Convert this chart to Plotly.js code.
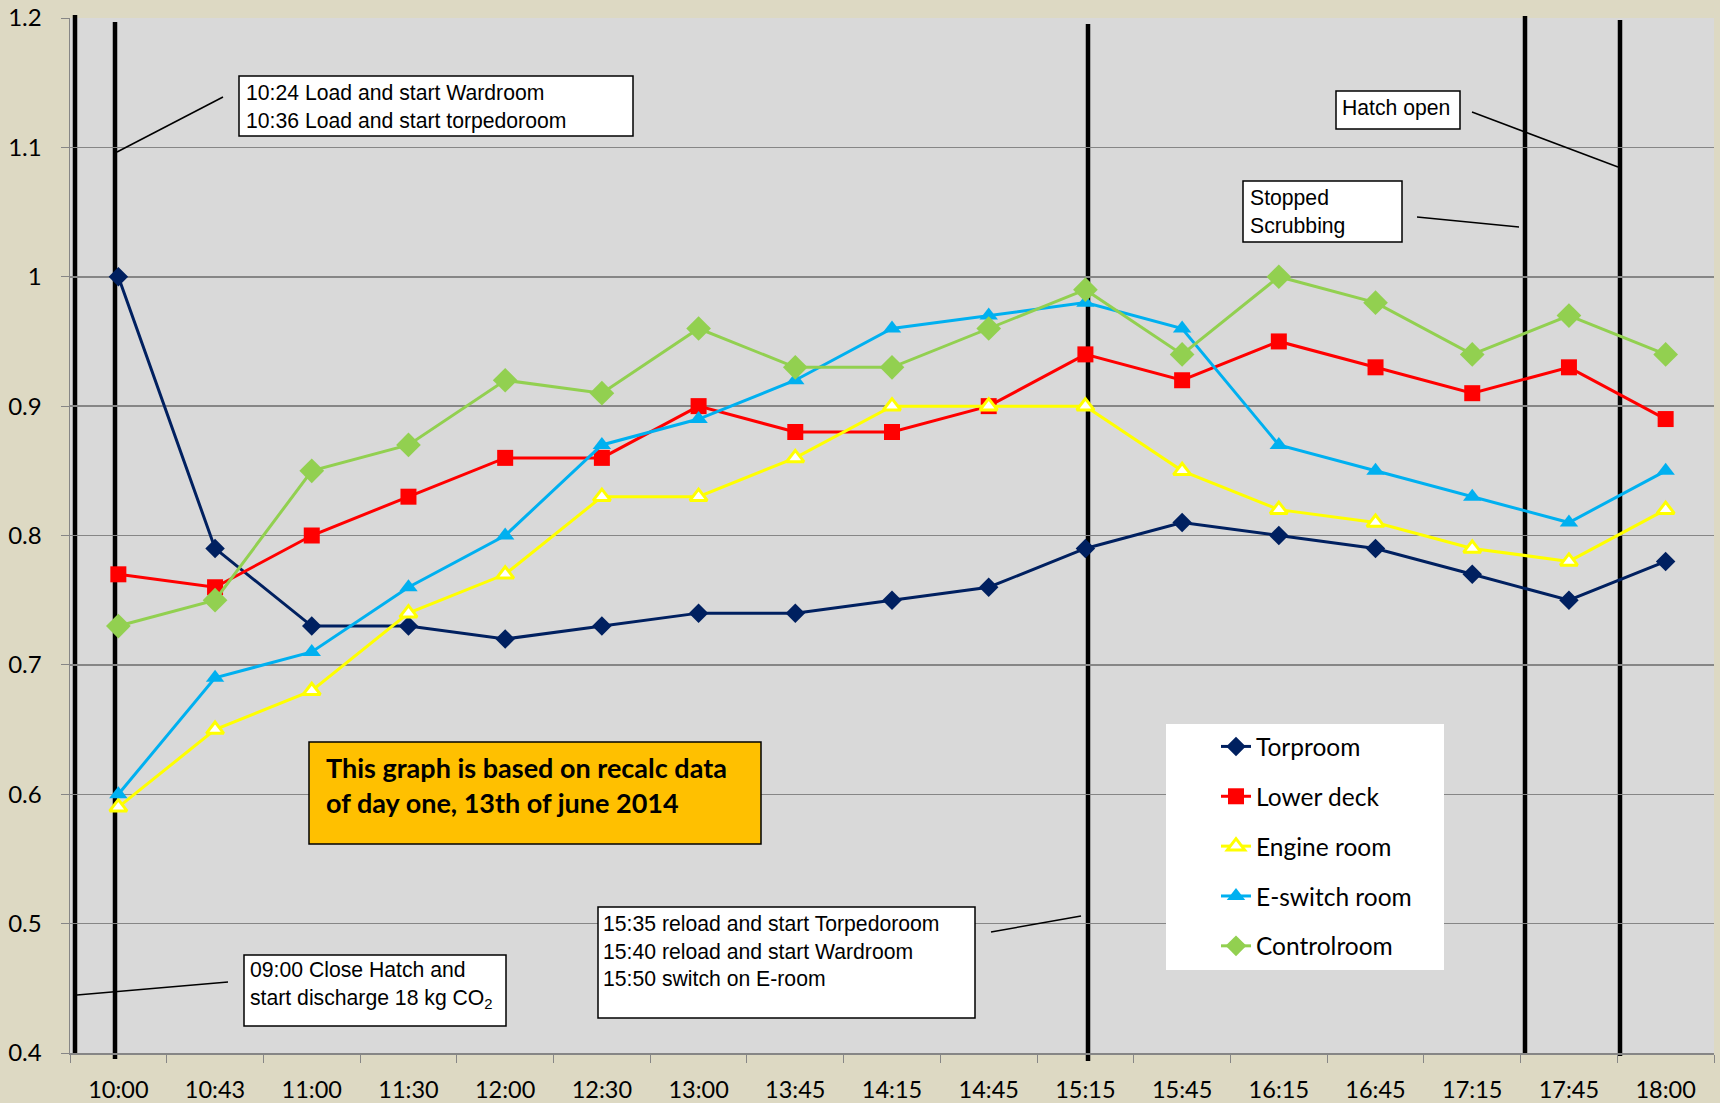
<!DOCTYPE html>
<html>
<head>
<meta charset="utf-8">
<script src="https://cdn.plot.ly/plotly-3.0.1.min.js"></script>
<style>html,body{margin:0;padding:0;background:#DDD9C3;}#chart{width:1720px;height:1103px;}</style>
</head>
<body>
<div id="chart"></div>
<script>
// ---- data ----
const times = ["10:00","10:43","11:00","11:30","12:00","12:30","13:00","13:45","14:15","14:45","15:15","15:45","16:15","16:45","17:15","17:45","18:00"];
const torproom    = [1.00,0.79,0.73,0.73,0.72,0.73,0.74,0.74,0.75,0.76,0.79,0.81,0.80,0.79,0.77,0.75,0.78];
const lowerDeck   = [0.77,0.76,0.80,0.83,0.86,0.86,0.90,0.88,0.88,0.90,0.94,0.92,0.95,0.93,0.91,0.93,0.89];
const engineRoom  = [0.59,0.65,0.68,0.74,0.77,0.83,0.83,0.86,0.90,0.90,0.90,0.85,0.82,0.81,0.79,0.78,0.82];
const eSwitchRoom = [0.60,0.69,0.71,0.76,0.80,0.87,0.89,0.92,0.96,0.97,0.98,0.96,0.87,0.85,0.83,0.81,0.85];
const controlroom = [0.73,0.75,0.85,0.87,0.92,0.91,0.96,0.93,0.93,0.96,0.99,0.94,1.00,0.98,0.94,0.97,0.94];
const seriesNames = ["Torproom","Lower deck","Engine room","E-switch room","Controlroom"];

// ---- layout helpers (pixel -> paper) ----
const L = 70, R = 1714, T = 18, B = 1053;
const px = x => (x - L) / (R - L);
const py = y => (B - y) / (B - T);

const traces = [
  {y: torproom, name: seriesNames[0], line:{color:"#002060",width:3}, marker:{symbol:"diamond",size:15,color:"#002060"}},
  {y: lowerDeck, name: seriesNames[1], line:{color:"#FF0000",width:3}, marker:{symbol:"square",size:16,color:"#FF0000"}},
  {y: engineRoom, name: seriesNames[2], line:{color:"#FFFF00",width:3}, marker:{symbol:"triangle-up",size:15,color:"#FFFFFF",line:{color:"#FFFF00",width:3}}},
  {y: eSwitchRoom, name: seriesNames[3], line:{color:"#00B0F0",width:3}, marker:{symbol:"triangle-up",size:16,color:"#00B0F0"}},
  {y: controlroom, name: seriesNames[4], line:{color:"#92D050",width:3}, marker:{symbol:"diamond",size:19,color:"#92D050"}}
].map((t,i) => Object.assign(t, {x: times, type:"scatter", mode:"lines+markers", legendgroup:"g"+i, hoverinfo:"skip"}));

function vline(x, y0, y1){
  return {type:"line", xref:"paper", yref:"paper", x0:px(x), x1:px(x), y0:py(y1), y1:py(y0), line:{color:"#000",width:4.5}, layer:"between"};
}
function seg(x0,y0,x1,y1){
  return {type:"line", xref:"paper", yref:"paper", x0:px(x0), x1:px(x1), y0:py(y0), y1:py(y1), line:{color:"#000",width:1.5}, layer:"above"};
}
function box(x0,y0,x1,y1,fill){
  return {type:"rect", xref:"paper", yref:"paper", x0:px(x0), x1:px(x1), y0:py(y1), y1:py(y0), fillcolor:fill, line:{color:"#000",width:1.5}, layer:"above"};
}

const shapes = [
  vline(75, 15, 1054), vline(115, 22, 1059), vline(1088, 24, 1061), vline(1525, 16, 1054), vline(1620, 20, 1056),
  box(239,76,633,136,"#FFFFFF"), seg(223,97,117,152),
  box(1336,91,1460,129,"#FFFFFF"), seg(1472,112,1618,167),
  box(1243,181,1402,242,"#FFFFFF"), seg(1417,217,1519,227),
  box(598,907,975,1018,"#FFFFFF"), seg(991,932,1081,916),
  box(244,955,506,1026,"#FFFFFF"), seg(77,995,228,982),
  box(309,742,761,844,"#FFC000"),
  {type:"rect", xref:"paper", yref:"paper", x0:px(1166), x1:px(1444), y0:py(970), y1:py(724), fillcolor:"#FFFFFF", line:{width:0}, layer:"above"}
];

const af = {family:"Liberation Sans, Arial, sans-serif", size:21.2, color:"#000"};
function note(x, y, text, font){
  return {xref:"paper", yref:"paper", x:px(x), y:py(y), xanchor:"left", yanchor:"top", align:"left", text:text, showarrow:false, font:font||af};
}
const annotations = [
  note(244, 79, "10:24 Load and start Wardroom<br>10:36 Load and start torpedoroom"),
  note(1340, 94, "Hatch open"),
  note(1248, 184, "Stopped<br>Scrubbing"),
  note(601, 910, "15:35 reload and start Torpedoroom<br>15:40 reload and start Wardroom<br>15:50 switch on E-room"),
  note(248, 956, "09:00 Close Hatch and<br>start discharge 18 kg CO<sub>2</sub>"),
  note(324, 749, "<b>This graph is based on recalc data<br>of day one, 13th of june 2014</b>", {family:"Lato, sans-serif", size:27, color:"#000"})
];

const layout = {
  width:1720, height:1103,
  margin:{l:L, r:1720-R, t:T, b:1103-B},
  paper_bgcolor:"#DDD9C3", plot_bgcolor:"#D9D9D9",
  font:{family:"Lato, sans-serif", size:22, color:"#000"},
  showlegend:true,
  legend:{x:px(1216), y:py(724), xanchor:"left", yanchor:"top", bgcolor:"rgba(0,0,0,0)", borderwidth:0,
          font:{family:"Lato, sans-serif", size:24.5, color:"#000"}, tracegroupgap:15, traceorder:"grouped"},
  xaxis:{type:"category", range:[-0.5,16.5], tickson:"boundaries", ticks:"outside", ticklen:8, tickcolor:"#868686", showgrid:false,
         showline:true, linecolor:"#868686", linewidth:1.5, tickfont:{size:23.5}, ticklabelstandoff:15, fixedrange:true},
  yaxis:{range:[0.4,1.2], dtick:0.1, tick0:0.4, ticks:"outside", ticklen:8, tickcolor:"#868686", showgrid:true,
         gridcolor:"#868686", gridwidth:1.5, showline:true, linecolor:"#868686", linewidth:1.5, zeroline:false,
         tickfont:{size:24}, ticklabelstandoff:14, fixedrange:true},
  shapes:shapes, annotations:annotations
};

Plotly.newPlot("chart", traces, layout, {displayModeBar:false, staticPlot:true});
</script>
</body>
</html>
